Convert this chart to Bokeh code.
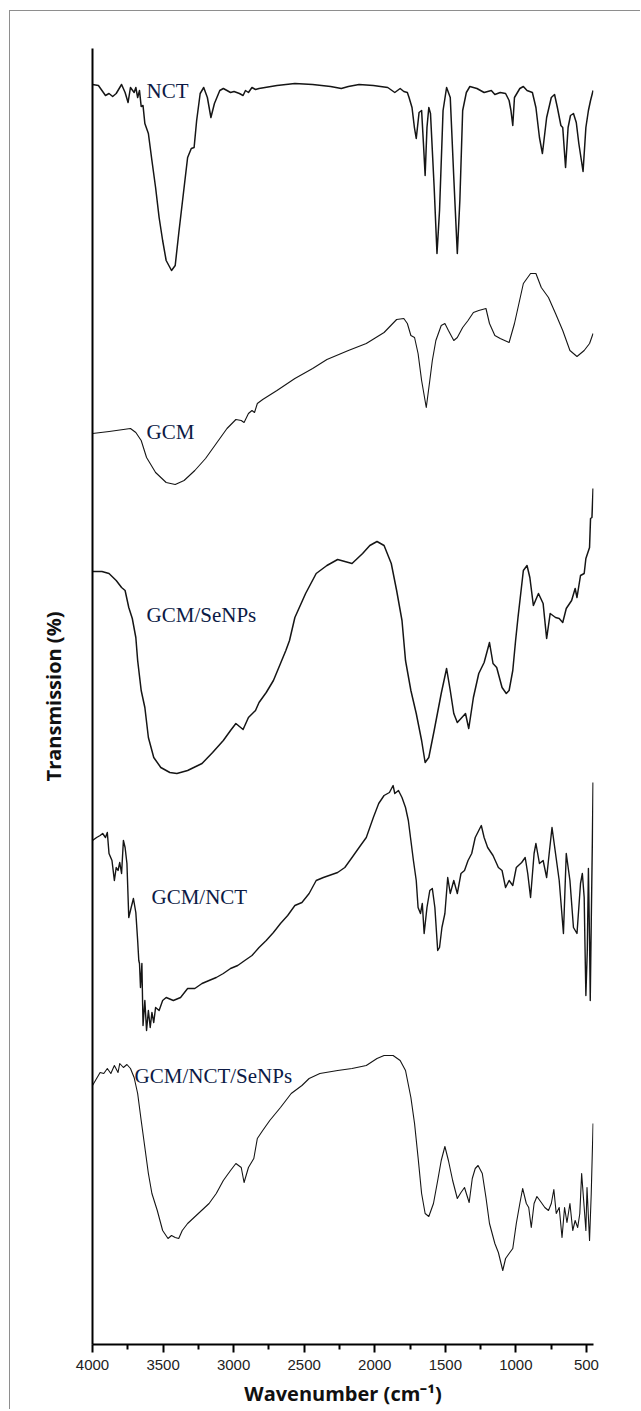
from bokeh.plotting import figure
from bokeh.models import Range1d, FixedTicker, LinearAxis
from bokeh.core.properties import value
from bokeh.embed import file_html
from bokeh.resources import INLINE

# ---------------- data (wavenumber cm-1, transmission, arbitrary offset units) ----------------
nct_wn = [4000, 3958, 3933, 3908, 3883, 3857, 3832, 3794, 3769, 3748, 3731, 3705, 3693, 3680, 3667,
          3655, 3642, 3629, 3604, 3579, 3553, 3528, 3503, 3478, 3440, 3414, 3389, 3351, 3326, 3300,
          3280, 3262, 3237, 3212, 3186, 3161, 3136, 3098, 3073, 3047, 3022, 2997, 2959, 2933, 2916,
          2895, 2870, 2845, 2820, 2693, 2566, 2440, 2313, 2237, 2187, 2111, 2010, 1908, 1858, 1820,
          1794, 1769, 1757, 1736, 1719, 1706, 1686, 1668, 1655, 1643, 1630, 1617, 1605, 1579, 1559,
          1541, 1516, 1491, 1465, 1440, 1415, 1397, 1377, 1351, 1326, 1276, 1225, 1174, 1149, 1111,
          1073, 1048, 1035, 1022, 1010, 972, 947, 921, 883, 858, 833, 812, 782, 749, 726,
          706, 681, 668, 648, 630, 613, 592, 572, 554, 524, 504, 486, 471, 453]
nct_t = [126.0, 125.9, 125.4, 124.9, 125.1, 124.8, 125.1, 126.0, 125.2, 124.2, 125.7, 125.2, 125.7, 124.7, 125.4,
         123.8, 123.9, 122.1, 121.1, 118.4, 115.7, 112.7, 110.4, 108.4, 107.4, 107.9, 111.1, 115.7, 118.7, 119.6,
         119.7, 122.4, 125.1, 125.7, 124.7, 122.7, 124.1, 125.4, 125.6, 125.4, 125.2, 125.3, 125.1, 124.9, 125.4,
         125.2, 125.7, 125.5, 125.6, 125.9, 126.1, 126.0, 125.8, 125.6, 125.8, 126.0, 125.9, 125.7, 125.2, 125.6,
         125.3, 125.2, 124.7, 123.7, 121.7, 120.6, 123.2, 123.4, 120.1, 116.9, 121.7, 123.7, 123.1, 115.7, 109.1,
         113.4, 123.4, 125.7, 124.7, 116.7, 109.1, 114.4, 123.4, 125.2, 125.8, 125.6, 125.2, 125.4, 125.0, 125.2,
         125.1, 124.4, 123.4, 121.9, 124.7, 125.6, 125.8, 125.4, 125.2, 123.7, 120.7, 119.1, 122.7, 124.7, 125.0,
         123.7, 121.9, 121.7, 117.7, 121.7, 122.9, 123.1, 122.2, 120.1, 117.3, 121.7, 123.4, 124.4, 125.4]

gcm_wn = [4000, 3882, 3731, 3693, 3655, 3617, 3553, 3478, 3414, 3351, 3275, 3199, 3123, 3047, 2984,
          2946, 2926, 2895, 2870, 2852, 2832, 2794, 2693, 2566, 2440, 2339, 2187, 2060, 1934, 1845,
          1794, 1769, 1744, 1718, 1693, 1668, 1635, 1610, 1592, 1567, 1529, 1503, 1478, 1440, 1415,
          1377, 1339, 1301, 1263, 1212, 1187, 1149, 1111, 1048, 1010, 947, 896, 858, 820, 769,
          719, 668, 617, 567, 516, 478, 453]
gcm_t = [91.1, 91.3, 91.6, 91.2, 90.4, 88.7, 87.2, 86.2, 86.0, 86.4, 87.4, 88.6, 90.1, 91.6, 92.5,
         92.4, 92.2, 93.1, 93.4, 93.2, 94.1, 94.5, 95.4, 96.6, 97.6, 98.5, 99.4, 100.1, 101.2, 102.5,
         102.6, 102.1, 100.9, 100.7, 99.1, 96.4, 93.7, 96.4, 98.4, 100.4, 101.9, 102.1, 101.4, 100.4, 100.7,
         101.7, 102.4, 103.2, 103.4, 103.6, 102.1, 100.9, 100.6, 100.2, 102.1, 106.1, 107.1, 107.1, 105.7, 104.7,
         103.1, 101.4, 99.4, 98.8, 99.4, 100.1, 101.1]

gcmse_wn = [4000, 3933, 3883, 3832, 3794, 3769, 3743, 3718, 3693, 3680, 3655, 3629, 3604, 3566, 3516,
            3452, 3402, 3326, 3224, 3149, 3073, 3022, 2984, 2933, 2895, 2845, 2820, 2769, 2718, 2668,
            2630, 2604, 2566, 2490, 2415, 2339, 2263, 2161, 2086, 2035, 1984, 1934, 1883, 1845, 1807,
            1782, 1744, 1706, 1668, 1643, 1617, 1579, 1529, 1491, 1465, 1440, 1415, 1389, 1357, 1334,
            1301, 1263, 1225, 1187, 1162, 1136, 1098, 1068, 1048, 1022, 1002, 985, 947, 921, 901,
            876, 840, 807, 782, 757, 719, 693, 668, 643, 605, 580, 567, 542, 516, 504,
            478, 471, 461, 453]
gcmse_t = [77.3, 77.3, 77.1, 76.4, 75.7, 75.4, 73.7, 72.6, 70.7, 68.4, 65.4, 63.7, 60.7, 58.7, 57.7,
           57.2, 57.1, 57.4, 58.1, 59.2, 60.4, 61.4, 62.1, 61.5, 62.7, 63.4, 64.2, 65.2, 66.4, 68.1,
           69.4, 70.4, 72.7, 75.1, 77.1, 77.9, 78.5, 78.1, 79.1, 79.9, 80.3, 79.9, 78.1, 75.4, 72.4,
           68.4, 65.4, 63.1, 60.4, 58.2, 58.7, 61.4, 65.1, 67.6, 65.4, 63.1, 62.2, 62.6, 63.1, 61.6,
           64.7, 67.1, 68.2, 70.2, 68.1, 67.7, 65.7, 65.1, 65.4, 67.4, 70.4, 72.7, 77.4, 77.9, 76.7,
           73.9, 75.1, 74.1, 70.6, 73.1, 72.7, 72.6, 72.2, 73.6, 74.4, 75.6, 74.7, 76.9, 77.1, 78.6,
           79.7, 82.6, 82.7, 85.6]

gcmnct_wn = [4000, 3971, 3946, 3928, 3908, 3895, 3883, 3862, 3845, 3832, 3819, 3807, 3794, 3781, 3769,
             3756, 3743, 3726, 3710, 3693, 3680, 3672, 3667, 3660, 3650, 3642, 3629, 3617, 3604, 3591,
             3579, 3566, 3553, 3528, 3503, 3478, 3427, 3376, 3326, 3275, 3224, 3174, 3123, 3073, 3022,
             2971, 2921, 2870, 2820, 2769, 2718, 2668, 2617, 2566, 2516, 2465, 2415, 2364, 2263, 2212,
             2161, 2111, 2060, 2035, 2010, 1972, 1934, 1896, 1870, 1858, 1832, 1807, 1782, 1762, 1744,
             1726, 1706, 1693, 1676, 1663, 1650, 1630, 1610, 1592, 1574, 1554, 1541, 1524, 1503, 1483,
             1465, 1440, 1415, 1389, 1364, 1339, 1313, 1288, 1263, 1245, 1225, 1200, 1162, 1124, 1098,
             1073, 1048, 1022, 997, 959, 934, 916, 896, 871, 858, 833, 807, 782, 764, 744,
             719, 693, 663, 643, 617, 592, 567, 542, 529, 516, 511, 504, 494, 486, 478,
             473, 466, 458, 453]
gcmnct_t = [50.4, 50.7, 50.9, 51.1, 50.7, 51.2, 49.1, 48.4, 46.4, 47.7, 47.4, 48.2, 47.1, 50.4, 49.7,
            48.1, 42.7, 43.7, 44.6, 43.2, 40.4, 38.4, 38.1, 35.7, 38.1, 31.9, 34.4, 31.4, 33.4, 31.7,
            33.2, 32.2, 33.7, 33.4, 34.4, 34.7, 34.4, 34.7, 35.6, 35.6, 36.1, 36.4, 36.7, 37.1, 37.6,
            37.9, 38.4, 38.9, 39.7, 40.4, 41.2, 42.1, 42.9, 43.9, 44.2, 45.1, 46.4, 46.7, 47.2, 47.7,
            48.7, 49.7, 50.7, 51.7, 52.7, 54.1, 54.9, 55.2, 55.9, 55.1, 55.4, 54.7, 53.7, 52.4, 50.4,
            48.4, 46.4, 43.7, 43.1, 44.1, 41.1, 43.7, 45.4, 45.6, 43.7, 39.4, 39.7, 41.7, 43.1, 46.7,
            45.1, 46.4, 45.1, 47.1, 47.4, 48.4, 49.1, 50.7, 51.4, 51.9, 50.7, 49.7, 48.9, 47.7, 47.4,
            45.7, 46.4, 45.9, 47.7, 48.2, 48.7, 47.1, 44.7, 49.1, 50.1, 48.1, 48.4, 46.7, 49.1, 51.7,
            49.1, 46.4, 41.1, 49.1, 46.4, 41.7, 41.1, 46.1, 47.1, 44.7, 40.4, 34.9, 39.4, 47.6, 40.4,
            34.4, 42.1, 50.4, 56.2]

gcmnctse_wn = [4000, 3971, 3946, 3920, 3895, 3870, 3845, 3819, 3807, 3781, 3756, 3731, 3705, 3680, 3655,
               3629, 3604, 3579, 3541, 3503, 3465, 3440, 3414, 3389, 3364, 3326, 3250, 3174, 3123, 3073,
               3022, 2984, 2946, 2926, 2895, 2857, 2832, 2794, 2744, 2668, 2592, 2516, 2465, 2389, 2263,
               2161, 2060, 1984, 1934, 1870, 1820, 1782, 1744, 1718, 1693, 1668, 1643, 1617, 1584, 1554,
               1529, 1503, 1478, 1448, 1415, 1389, 1364, 1351, 1331, 1309, 1288, 1268, 1238, 1212, 1187,
               1149, 1124, 1093, 1073, 1048, 1022, 997, 972, 952, 926, 909, 891, 871, 851, 820,
               795, 769, 749, 731, 714, 693, 673, 655, 638, 617, 597, 580, 562, 547, 534,
               516, 504, 496, 478, 466, 453]
gcmnctse_t = [25.9, 26.6, 27.2, 27.1, 27.6, 27.1, 27.9, 27.2, 28.1, 27.7, 28.0, 27.6, 26.7, 25.1, 22.4,
              19.7, 17.1, 15.1, 13.4, 11.4, 10.6, 10.9, 10.7, 10.6, 11.4, 12.1, 13.1, 14.1, 15.1, 16.4,
              17.4, 18.1, 17.7, 16.2, 17.7, 18.6, 20.6, 21.4, 22.4, 23.7, 25.1, 25.9, 26.6, 27.1, 27.4,
              27.6, 27.9, 28.6, 28.9, 28.9, 28.4, 27.4, 24.7, 22.1, 18.7, 15.1, 13.1, 12.8, 14.1, 16.4,
              18.4, 19.8, 18.4, 16.4, 14.6, 15.2, 15.7, 15.1, 14.2, 16.6, 17.6, 17.9, 17.1, 14.7, 12.1,
              10.1, 9.2, 7.4, 8.6, 9.1, 9.6, 12.1, 14.1, 15.6, 14.1, 13.7, 11.7, 14.1, 14.8, 14.2,
              13.7, 13.4, 14.1, 15.5, 13.1, 13.7, 10.7, 13.7, 12.2, 14.1, 11.4, 12.4, 11.7, 13.1, 17.1,
              13.7, 11.4, 15.7, 10.4, 15.1, 22.1]

label_names = ["NCT", "GCM", "GCM/SeNPs", "GCM/NCT", "GCM/NCT/SeNPs"]
label_wn = [3617, 3617, 3617, 3582, 3702]
label_t = [125.4, 91.3, 73.0, 44.8, 26.9]

x_ticks = [4000, 3500, 3000, 2500, 2000, 1500, 1000, 500]
x_minor = [3750, 3250, 2750, 2250, 1750, 1250, 750]

# ---------------- figure ----------------
p = figure(width=631, height=1399, output_backend="svg", toolbar_location=None,
           x_range=Range1d(4000, 450), y_range=Range1d(0, 129.6),
           min_border_left=82, min_border_right=48, min_border_top=37, min_border_bottom=66,
           x_axis_location=None, y_axis_location=None)
p.outline_line_color = None
p.xgrid.visible = False
p.ygrid.visible = False
p.styles = {"margin-left": "9px", "margin-top": "10px",
            "border-left": "1px solid #8e8e8e", "border-top": "1px solid #8e8e8e"}

xaxis = LinearAxis(ticker=FixedTicker(ticks=x_ticks, minor_ticks=x_minor),
                   axis_label="Wavenumber (cm\u207b\u00b9)")
xaxis.axis_line_width = 2
xaxis.major_tick_line_width = 2
xaxis.minor_tick_line_width = 2
xaxis.major_tick_out = 8
xaxis.major_tick_in = 0
xaxis.minor_tick_out = 5
xaxis.minor_tick_in = 0
xaxis.major_label_standoff = 7
xaxis.major_label_text_font = "Liberation Sans"
xaxis.major_label_text_font_size = "15px"
xaxis.major_label_text_color = "#222222"
xaxis.axis_label_text_font = "Open Sans"
xaxis.axis_label_text_font_style = "bold"
xaxis.axis_label_text_font_size = "20px"
xaxis.axis_label_text_color = "#111111"
xaxis.axis_label_standoff = 7
p.add_layout(xaxis, "below")

yaxis = LinearAxis(ticker=FixedTicker(ticks=[]), axis_label="Transmission (%)")
yaxis.axis_line_width = 2
yaxis.major_tick_line_color = None
yaxis.minor_tick_line_color = None
yaxis.major_label_text_font_size = "0px"
yaxis.axis_label_text_font = "Open Sans"
yaxis.axis_label_text_font_style = "bold"
yaxis.axis_label_text_font_size = "20px"
yaxis.axis_label_text_color = "#111111"
yaxis.axis_label_standoff = 26
p.add_layout(yaxis, "left")

series = [(nct_wn, nct_t, 1.5), (gcm_wn, gcm_t, 1.1), (gcmse_wn, gcmse_t, 1.5),
          (gcmnct_wn, gcmnct_t, 1.4), (gcmnctse_wn, gcmnctse_t, 1.1)]
for wn, t, lw in series:
    p.line(wn, t, line_color="#151515", line_width=lw, line_join="round")

p.text(x=label_wn, y=label_t, text=label_names, text_font=value("Liberation Serif"),
       text_font_size="21px", text_color="#0c1a45", text_align="left", text_baseline="middle")

open("out.html", "w").write(file_html(p, INLINE))
